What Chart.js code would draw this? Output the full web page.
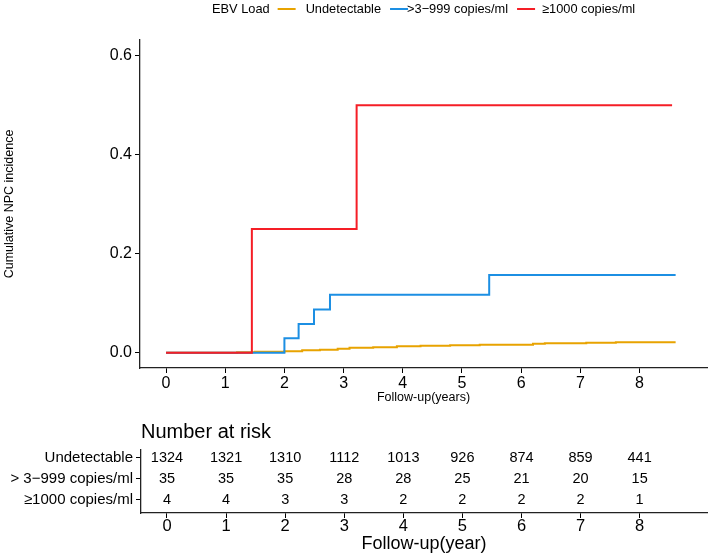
<!DOCTYPE html>
<html>
<head>
<meta charset="utf-8">
<script src="https://cdn.jsdelivr.net/npm/chart.js@4.4.0/dist/chart.umd.min.js"></script>
<style>
  body { margin: 0; background: #fff; }
  #wrap { position: relative; width: 709px; height: 553px; }
  #chart-1 { position: absolute; left: 0; top: 0; }
  #chart-2 { position: absolute; left: 0; top: 410px; }
</style>
</head>
<body>
<div id="wrap">
  <canvas id="chart-1" width="709" height="410"></canvas>
  <canvas id="chart-2" width="709" height="143"></canvas>
</div>
<script>
// group names
const groups = ['Undetectable', '> 3\u2212999 copies/ml', '\u22651000 copies/ml'];
const legendNames = ['Undetectable', '>3\u2212999 copies/ml', '\u22651000 copies/ml'];
const colors = ['#E8A300', '#1C8FE3', '#F51E26'];

// cumulative incidence curves (step functions)
const undetTime = [0, 1.2, 1.5, 1.8, 2.0, 2.3, 2.6, 2.9, 3.1, 3.5, 3.9, 4.3, 4.8, 5.3, 5.9, 6.2, 6.4, 7.1, 7.6, 8.61];
const undetInc  = [0, 0.001, 0.002, 0.002, 0.003, 0.005, 0.006, 0.008, 0.010, 0.011, 0.013, 0.014, 0.015, 0.016, 0.016, 0.018, 0.019, 0.020, 0.021, 0.021];
const midTime = [0, 2.0, 2.24, 2.5, 2.77, 5.46, 8.61];
const midInc  = [0, 0.029, 0.058, 0.087, 0.117, 0.157, 0.157];
const highTime = [0, 1.45, 3.22, 8.55];
const highInc  = [0, 0.25, 0.5, 0.5];

// ticks
const xTicks = [0, 1, 2, 3, 4, 5, 6, 7, 8];
const yTicks = [0, 0.2, 0.4, 0.6];

// number at risk
const riskTimes = [0, 1, 2, 3, 4, 5, 6, 7, 8];
const riskUndet = [1324, 1321, 1310, 1112, 1013, 926, 874, 859, 441];
const riskMid   = [35, 35, 35, 28, 28, 25, 21, 20, 15];
const riskHigh  = [4, 4, 3, 3, 2, 2, 2, 2, 1];

Chart.defaults.font.family = '"Liberation Sans", Arial, sans-serif';
Chart.defaults.color = '#000';
Chart.defaults.animation = false;

const toPts = (xs, ys) => xs.map((x, i) => ({x: x, y: ys[i]}));

const legendPlugin = {
    id: 'kmLegend',
    afterDraw(chart) {
        const ctx = chart.ctx;
        const y = 9;
        ctx.save();
        ctx.font = '12.8px "Liberation Sans", Arial, sans-serif';
        ctx.fillStyle = '#000';
        ctx.textBaseline = 'middle';
        ctx.textAlign = 'left';
        let x = 212;
        ctx.fillText('EBV Load', x, y);
        x += ctx.measureText('EBV Load').width + 8;
        const gaps = [10, -1, 7];
        legendNames.forEach((name, i) => {
            ctx.strokeStyle = colors[i];
            ctx.lineWidth = 2;
            ctx.beginPath();
            ctx.moveTo(x, y);
            ctx.lineTo(x + 18, y);
            ctx.stroke();
            x += 18 + gaps[i];
            ctx.fillText(name, x, y);
            x += ctx.measureText(name).width + 9;
        });
        ctx.restore();
    }
};

const axisCommon = {
    grid: {display: true, drawOnChartArea: false, drawTicks: true, tickLength: 5, color: '#000', lineWidth: 1},
    border: {display: true, color: '#222', width: 1.3}
};

new Chart(document.getElementById('chart-1').getContext('2d'), {
    type: 'line',
    data: {
        datasets: [
            {label: legendNames[2], data: toPts(highTime, highInc), borderColor: colors[2]},
            {label: legendNames[1], data: toPts(midTime, midInc), borderColor: colors[1]},
            {label: legendNames[0], data: toPts(undetTime, undetInc), borderColor: colors[0]}
        ].map(d => Object.assign(d, {stepped: true, borderWidth: 2, pointRadius: 0, fill: false}))
    },
    options: {
        responsive: false,
        layout: {padding: {top: 40, right: 2, left: 0, bottom: 0}},
        plugins: {legend: {display: false}, tooltip: {enabled: false}},
        scales: {
            x: Object.assign({
                type: 'linear', min: -0.44, max: 9.14,
                afterBuildTicks: s => { s.ticks = xTicks.map(v => ({value: v})); },
                afterFit: s => { s.height = 42; },
                ticks: {font: {size: 16}, padding: 1, callback: v => String(v)},
                title: {display: true, text: 'Follow-up(years)', font: {size: 12.5}, padding: {top: 0, bottom: 5}}
            }, axisCommon),
            y: Object.assign({
                type: 'linear', min: -0.031, max: 0.632,
                afterBuildTicks: s => { s.ticks = yTicks.map(v => ({value: v})); },
                afterFit: s => { s.width = 140; },
                ticks: {font: {size: 16}, padding: 3, callback: v => v.toFixed(1)},
                title: {display: true, text: 'Cumulative NPC incidence', font: {size: 12.5}, padding: {top: 2, bottom: 0}}
            }, axisCommon)
        }
    },
    plugins: [legendPlugin]
});

// risk table
const riskRows = [riskUndet, riskMid, riskHigh];
const rowY = [3, 2, 1];

const riskTextPlugin = {
    id: 'riskText',
    afterDatasetsDraw(chart) {
        const ctx = chart.ctx;
        ctx.save();
        ctx.font = '14.5px "Liberation Sans", Arial, sans-serif';
        ctx.fillStyle = '#000';
        ctx.textAlign = 'center';
        ctx.textBaseline = 'middle';
        chart.data.datasets.forEach((ds, di) => {
            const meta = chart.getDatasetMeta(di);
            meta.data.forEach((pt, i) => {
                ctx.fillText(String(riskRows[di][i]), pt.x, pt.y);
            });
        });
        ctx.font = '20px "Liberation Sans", Arial, sans-serif';
        ctx.textAlign = 'left';
        ctx.fillText('Number at risk', chart.chartArea.left, 22);
        ctx.restore();
    }
};

new Chart(document.getElementById('chart-2').getContext('2d'), {
    type: 'scatter',
    data: {
        datasets: riskRows.map((row, gi) => ({
            label: groups[gi],
            data: riskTimes.map(t => ({x: t, y: rowY[gi]})),
            pointRadius: 0,
            showLine: false
        }))
    },
    options: {
        responsive: false,
        layout: {padding: {top: 40, right: 2, left: 0, bottom: 0}},
        plugins: {legend: {display: false}, tooltip: {enabled: false}},
        scales: {
            x: Object.assign({
                type: 'linear', min: -0.44, max: 9.14,
                afterBuildTicks: s => { s.ticks = xTicks.map(v => ({value: v})); },
                afterFit: s => { s.height = 40; },
                ticks: {font: {size: 16.5}, padding: -1, callback: v => String(v)},
                title: {display: true, text: 'Follow-up(year)', font: {size: 18}, padding: {top: 0, bottom: -2}}
            }, axisCommon),
            y: Object.assign({
                type: 'linear', min: 0.38, max: 3.38,
                afterBuildTicks: s => { s.ticks = rowY.map(v => ({value: v})); },
                afterFit: s => { s.width = 141; },
                ticks: {font: {size: 15}, padding: 3, callback: v => groups[3 - v]}
            }, axisCommon)
        }
    },
    plugins: [riskTextPlugin]
});
</script>
</body>
</html>
